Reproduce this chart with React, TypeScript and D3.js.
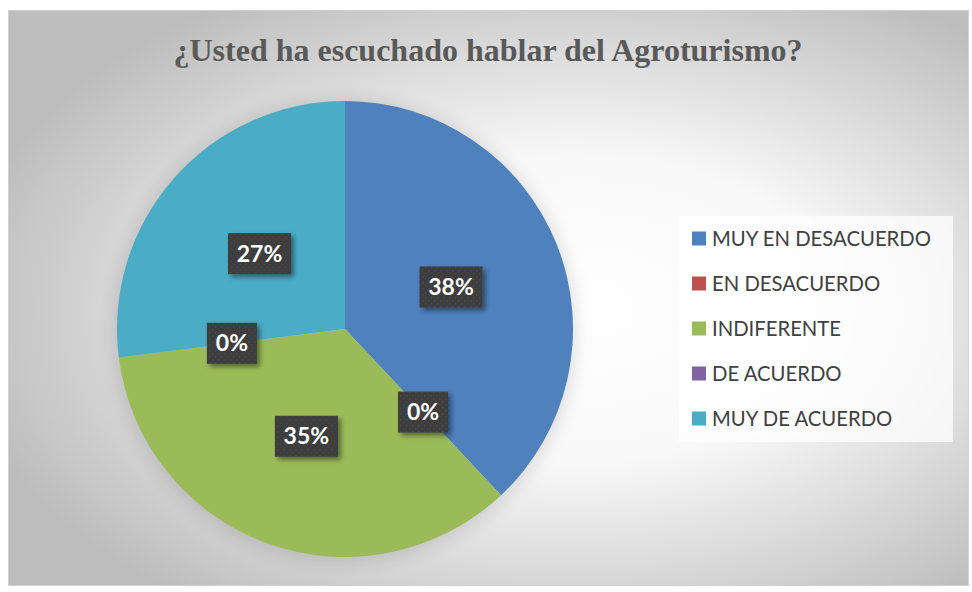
import React from "react";
import * as d3 from "d3";

const title = "¿Usted ha escuchado hablar del Agroturismo?";
const categories = ["MUY EN DESACUERDO", "EN DESACUERDO", "INDIFERENTE", "DE ACUERDO", "MUY DE ACUERDO"];
const values = [38, 0, 35, 0, 27];
const colors = ["#4F81BD", "#C0504D", "#9BBB59", "#8064A2", "#4BACC6"];

const W = 972;
const H = 592;
const cx = 345;
const cy = 329;
const R = 228;

export default function App() {
  const total = d3.sum(values);
  const pie = d3.pie<number>().sort(null).value((d) => d);
  const arcs = pie(values);
  const arcGen = d3.arc<d3.PieArcDatum<number>>().innerRadius(0).outerRadius(R);
  const fmt = d3.format(".0%");
  const legendY = d3.scalePoint<string>().domain(categories).range([238.5, 418.5]);

  return (
    <svg width={W} height={H} style={{ position: "absolute", left: 0, top: 0 }}>
      <defs>
        <radialGradient id="bg" cx="58%" cy="52%" r="64%" fx="60%" fy="52%">
          <stop offset="0%" stopColor="#ffffff" />
          <stop offset="42%" stopColor="#f8f8f8" />
          <stop offset="100%" stopColor="#bdbdbd" />
        </radialGradient>
        <pattern id="dots" width="6" height="6" patternUnits="userSpaceOnUse">
          <rect width="6" height="6" fill="#3c3c3c" />
          <rect x="1" y="1" width="1.4" height="1.4" fill="#4d4d4d" />
          <rect x="4" y="4" width="1.4" height="1.4" fill="#4a4a4a" />
        </pattern>
        <filter id="lshadow" x="-30%" y="-30%" width="170%" height="170%">
          <feDropShadow dx="3" dy="3" stdDeviation="2.5" floodColor="#000" floodOpacity="0.45" />
        </filter>
        <filter id="pshadow" x="-20%" y="-20%" width="140%" height="140%">
          <feGaussianBlur stdDeviation="9" />
        </filter>
      </defs>
      <rect x={8.5} y={10.5} width={960} height={575} fill="url(#bg)" stroke="#d0d0d0" strokeWidth={1} />
      <text
        x={488}
        y={61}
        textAnchor="middle"
        fontFamily="'Liberation Serif', 'Times New Roman', serif"
        fontWeight="bold"
        fontSize={32}
        fill="#595959"
      >
        {title}
      </text>
      <circle cx={cx} cy={cy + 2} r={R + 3} fill="#000" opacity={0.12} filter="url(#pshadow)" />
      <g transform={`translate(${cx},${cy})`}>
        {arcs.map((a, i) => (
          <path key={i} d={arcGen(a) || ""} fill={colors[i]} />
        ))}
        {arcs.map((a, i) => {
          const [lx, ly] = arcGen.centroid(a);
          const label = fmt(values[i] / total);
          const bw = label.length === 2 ? 50 : 63;
          const bh = 41;
          return (
            <g key={"l" + i} transform={`translate(${lx},${ly})`}>
              <rect x={-bw / 2} y={-bh / 2} width={bw} height={bh} fill="url(#dots)" filter="url(#lshadow)" />
              <text
                y={8}
                textAnchor="middle"
                fontFamily="Lato, 'Open Sans', sans-serif"
                fontWeight="bold"
                fontSize={23}
                fill="#ffffff"
              >
                {label}
              </text>
            </g>
          );
        })}
      </g>
      <rect x={679} y={216} width={274} height={226} fill="#ffffff" opacity={0.75} />
      {categories.map((c, i) => (
        <g key={c} transform={`translate(692,${legendY(c)})`}>
          <rect x={0} y={-7} width={14} height={14} fill={colors[i]} />
          <text x={20} y={7.5} fontFamily="Lato, 'Open Sans', sans-serif" fontSize={20.3} fill="#404040">
            {c}
          </text>
        </g>
      ))}
    </svg>
  );
}
